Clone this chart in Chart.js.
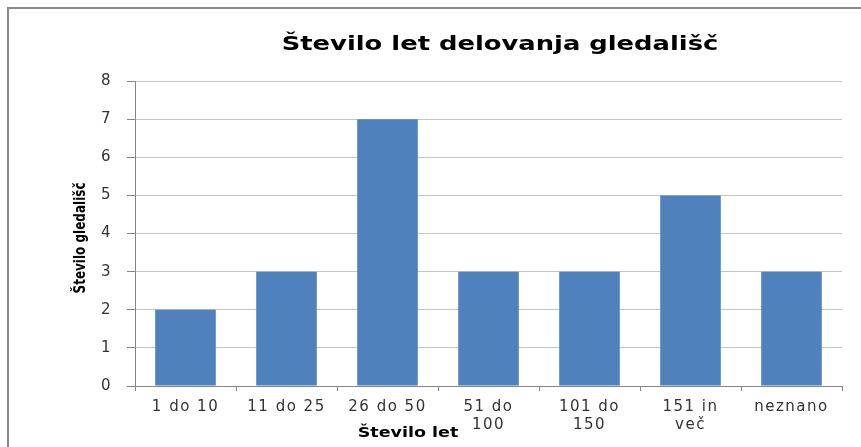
<!DOCTYPE html>
<html>
<head>
<meta charset="utf-8">
<script src="https://cdn.jsdelivr.net/npm/chart.js@4/dist/chart.umd.min.js"></script>
<style>
  html, body { margin: 0; padding: 0; background: #fff; }
  #wrap { width: 861px; height: 447px; position: relative; }
</style>
</head>
<body>
<div id="wrap"><canvas id="myChart" width="861" height="447"></canvas></div>
<script>
const categories = [["1 do 10"], ["11 do 25"], ["26 do 50"], ["51 do", "100"], ["101 do", "150"], ["151 in", "več"], ["neznano"]];
const theatres = [2, 3, 7, 3, 3, 5, 3];
const chartTitle = "Število let delovanja gledališč";
const xTitle = "Število let";
const yTitle = "Število gledališč";
const yMin = 0;
const yMax = 8;

// draws text squeezed/stretched sideways, the exported picture is not 1:1
const stretchedText = (c, text, x, y, sx, angle) => {
    c.save();
    c.translate(x, y);
    if (angle) c.rotate(angle);
    c.scale(sx, 1);
    c.fillText(text, 0, 0);
    c.restore();
};

// frame + titles drawn at fixed spots, like the excel export
const decorations = {
    id: 'decorations',
    beforeDraw(chart) {
        const c = chart.ctx;
        c.save();
        c.strokeStyle = '#8a8a8a';
        c.lineWidth = 2;
        c.beginPath();
        c.moveTo(8, 447);
        c.lineTo(8, 8);
        c.lineTo(861, 8);
        c.stroke();
        c.restore();
        // wider tick text
        c.letterSpacing = '1.5px';
    },
    afterDraw(chart) {
        const c = chart.ctx;
        c.save();
        c.letterSpacing = '0px';
        c.fillStyle = '#000';
        c.textAlign = 'center';
        c.textBaseline = 'middle';
        c.font = 'bold 20px "DejaVu Sans", sans-serif';
        stretchedText(c, chartTitle, 500, 45, 1.29, 0);

        c.font = 'bold 14px "DejaVu Sans", sans-serif';
        stretchedText(c, xTitle, 408, 433, 1.25, 0);

        c.font = 'bold 15px "DejaVu Sans", sans-serif';
        stretchedText(c, yTitle, 81, 238, 0.8, -Math.PI / 2);
        c.restore();
    }
};

const ctx = document.getElementById('myChart').getContext('2d');
const myChart = new Chart(ctx, {
    type: 'bar',
    data: {
        labels: categories,
        datasets: [{
            label: yTitle,
            data: theatres,
            backgroundColor: '#4f81bd',
            borderWidth: 0,
            barPercentage: 0.6,
            categoryPercentage: 1.0
        }]
    },
    options: {
        responsive: false,
        animation: false,
        layout: { padding: { top: 81, right: 19, bottom: 0, left: 0 } },
        plugins: {
            legend: { display: false },
            title: { display: false },
            tooltip: { enabled: false }
        },
        scales: {
            x: {
                afterFit: s => { s.height = 61; },
                grid: {
                    drawOnChartArea: false,
                    drawTicks: true,
                    tickLength: 5,
                    tickColor: '#868686',
                    offset: true
                },
                border: { color: '#868686', width: 1 },
                ticks: {
                    color: '#333',
                    font: { family: '"DejaVu Sans", sans-serif', size: 15 },
                    padding: 7,
                    maxRotation: 0,
                    autoSkip: false
                }
            },
            y: {
                min: yMin,
                max: yMax,
                afterFit: s => { s.width = 135; },
                grid: {
                    color: '#c4c4c4',
                    tickColor: '#868686',
                    tickLength: 8
                },
                border: { color: '#868686', width: 1 },
                ticks: {
                    stepSize: 1,
                    color: '#333',
                    font: { family: '"DejaVu Sans", sans-serif', size: 15 },
                    padding: 15
                }
            }
        }
    },
    plugins: [decorations]
});
</script>
</body>
</html>
